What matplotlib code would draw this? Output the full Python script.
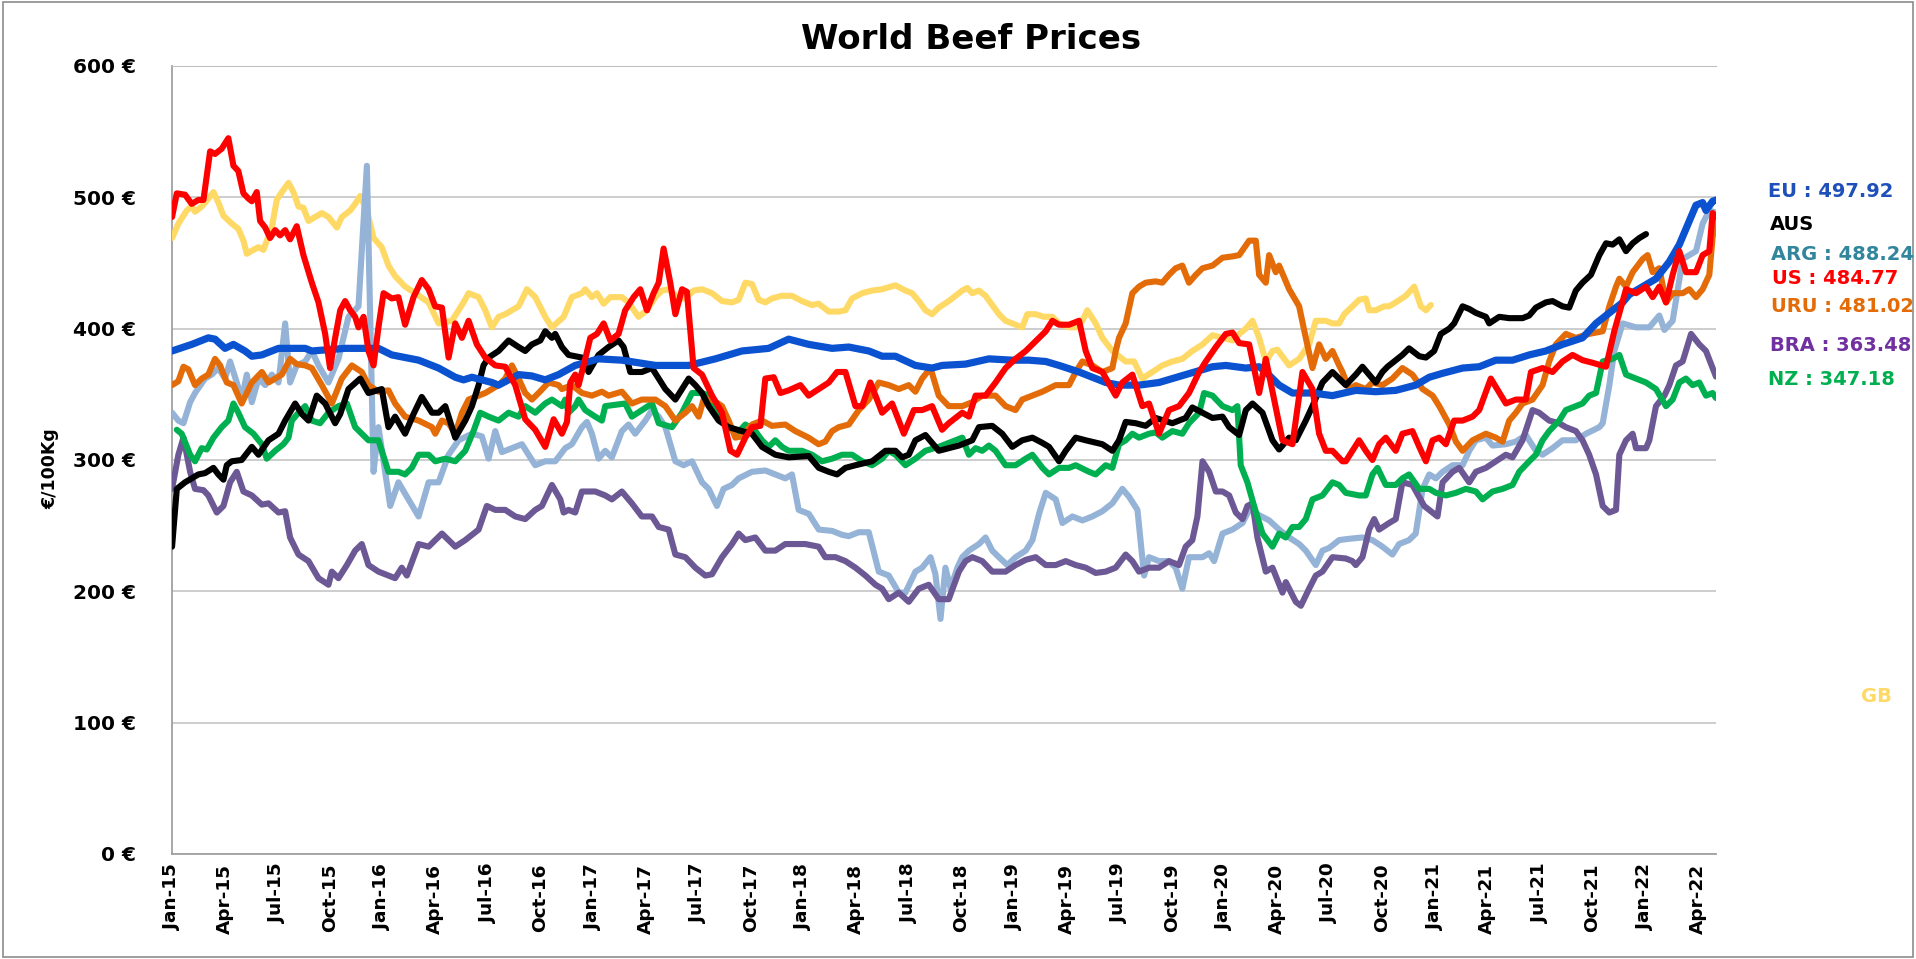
import numpy as np
import pandas as pd
import matplotlib
matplotlib.use('Agg')
import matplotlib.pyplot as plt
from matplotlib.patches import Rectangle

plt.rcParams['font.family'] = ['DejaVu Sans']

# ---------------- data (x = months since Jan-2015, y = EUR/100kg) ----------------
eu_month = [0.00,1.12,2.07,2.45,3.02,3.50,4.16,4.55,5.12,5.69,6.07,7.59,7.97,9.87,11.77,12.53,14.06,15.20,16.15,16.62,17.10,18.24,18.62,19.76,20.52,21.28,22.04,
            22.99,24.32,25.65,27.56,29.46,30.98,32.50,34.02,35.16,36.31,37.64,38.59,39.73,40.49,41.25,42.39,43.34,43.91,
            45.25,46.58,47.91,48.87,49.82,50.58,51.72,53.24,54.00,55.14,56.28,57.80,59.33,60.09,61.23,61.99,62.37,63.13,63.89,65.03,66.17,
            67.50,68.64,69.78,70.92,71.69,72.45,73.59,74.54,75.49,76.44,77.39,78.34,79.29,80.43,81.20,81.96,82.72,83.10,84.24,84.62,85.38,85.95,86.52,86.90,87.28,87.47,87.85,88.04]
eu_value = [383,388,393,392,385,388,383,379,380,383,385,385,383,385,385,380,376,370,363,361,363,359,357,365,364,361,365,
            372,377,376,372,372,377,383,385,392,388,385,386,383,379,379,372,370,372,
            373,377,376,376,375,372,367,359,357,357,359,365,371,372,370,371,367,357,351,351,349,
            353,352,353,357,363,366,370,371,376,376,380,383,388,393,404,412,420,426,435,438,451,464,482,494,496,490,497,497.92]

aus_month = [0,0.27,0.74,1.12,1.50,1.88,2.36,2.64,2.93,3.12,3.40,3.97,4.55,4.93,5.50,6.07,6.45,7.02,7.40,7.78,8.25,8.73,9.30,9.59,10.06,10.73,11.20,11.96,12.34,12.72,13.29,13.77,14.24,14.82,15.20,15.58,16.15,16.72,17.10,17.48,17.76,18.05,18.62,19.19,19.76,20.14,20.52,21.00,21.28,21.66,
             21.85,22.23,22.61,23.37,23.75,24.32,24.89,25.46,25.75,26.13,26.79,27.37,27.75,28.13,28.70,29.08,29.46,29.84,30.22,30.60,31.17,31.74,32.50,33.07,33.64,34.40,35.16,36.31,36.88,37.45,37.92,38.40,38.97,39.92,40.68,41.25,41.63,42.01,42.39,42.96,43.72,
             44.87,45.63,46.01,46.77,47.34,47.91,48.48,49.06,49.63,50.01,50.58,50.96,51.53,52.10,53.05,53.62,54.00,54.38,54.95,55.52,56.09,57.04,57.80,58.18,58.76,59.33,59.90,60.28,60.85,61.23,61.61,62.18,62.75,63.13,63.70,64.08,64.65,65.03,65.60,66.17,66.55,66.93,
             67.50,67.88,68.26,68.64,69.02,69.31,69.69,70.16,70.54,71.12,71.50,71.97,72.35,72.83,73.11,73.59,73.97,74.35,74.92,75.11,75.68,76.25,77.01,77.39,77.77,78.34,78.72,79.29,79.67,80.05,80.43,80.91,81.39,81.77,82.15,82.53,82.91,83.29,83.67,84.05]
aus_value = [234,278,283,286,289,290,294,289,285,296,299,300,310,304,315,320,330,343,335,330,349,343,328,335,354,362,351,354,325,333,320,335,348,336,336,341,317,330,341,357,372,378,383,391,386,383,388,391,398,393,
             396,386,380,378,367,380,386,391,386,367,367,370,362,354,346,354,362,357,351,341,330,325,322,320,310,304,302,303,294,291,289,294,296,299,307,307,302,304,315,319,307,
             311,315,325,326,320,310,315,317,313,310,299,307,317,315,312,307,315,329,328,326,332,328,332,340,336,332,333,325,319,338,343,336,315,308,317,315,330,341,359,367,362,357,
             365,371,365,359,367,371,375,380,385,379,378,383,396,400,404,417,415,412,409,404,409,408,408,410,416,420,421,417,416,429,435,441,456,465,464,468,459,465,469,472]

arg_month = [0,0.36,0.65,1.03,1.31,1.88,2.26,2.64,3.02,3.31,3.69,3.97,4.26,4.55,4.93,5.31,5.69,6.07,6.45,6.73,7.11,7.59,7.97,8.35,8.92,9.49,10.06,10.63,11.11,11.49,11.77,12.44,12.91,13.48,14.06,14.63,15.20,15.77,16.34,17.10,17.67,18.05,18.43,18.81,19.38,19.95,20.33,20.71,21.28,
             21.85,22.42,22.80,23.37,23.66,23.94,24.32,24.70,25.08,25.65,26.03,26.41,26.99,27.37,27.75,28.13,28.70,29.17,29.65,30.22,30.60,31.07,31.45,31.93,32.31,33.07,33.83,34.40,34.97,35.35,35.73,36.31,36.88,37.64,38.21,38.59,39.16,39.73,40.30,40.87,41.44,41.82,42.39,42.77,43.25,43.53,43.82,44.10,44.39,
             44.78,45.06,45.44,46.01,46.39,46.77,47.15,47.63,48.10,48.68,49.06,49.44,49.82,50.39,50.77,51.34,51.91,52.48,53.05,53.62,54.19,54.57,55.05,55.43,55.71,56.28,56.85,57.23,57.61,57.99,58.76,59.14,59.42,59.90,60.47,61.04,61.42,61.99,62.56,63.13,63.70,64.27,64.65,65.22,65.60,65.98,66.55,
             67.12,67.88,68.45,69.02,69.59,69.97,70.54,70.92,71.31,71.69,72.07,72.45,73.02,73.59,73.97,74.35,74.92,75.30,76.06,76.63,77.20,77.77,78.15,78.72,79.29,80.05,80.63,81.39,81.58,81.96,82.24,82.72,83.48,84.24,84.81,85.10,85.57,86.14,86.52,86.90,87.28,87.66,88.04]
arg_value = [336,330,328,344,351,362,365,370,362,375,359,346,365,344,362,357,365,359,404,359,372,375,383,372,359,377,409,417,524,291,325,265,283,270,257,283,283,304,315,320,318,301,322,306,309,312,304,296,299,
             299,309,312,325,329,320,301,307,302,322,327,320,330,338,333,325,299,296,299,283,278,265,278,281,286,291,292,289,286,289,262,259,247,246,243,242,245,245,215,212,199,199,215,218,226,213,179,218,202,
             218,226,231,236,241,231,226,220,226,231,239,259,275,270,252,257,254,257,261,267,278,272,262,212,226,223,223,218,202,226,226,229,223,244,247,252,262,258,254,247,241,236,231,220,231,233,239,
             240,241,239,234,228,236,239,244,278,289,286,291,296,296,307,315,317,311,312,314,319,307,304,309,315,315,320,325,328,357,383,404,401,401,410,399,406,453,456,459,480,490,488.24]

us_month = [0,0.27,0.74,1.12,1.50,1.79,2.17,2.45,2.83,3.21,3.50,3.78,4.07,4.36,4.55,4.83,5.02,5.31,5.59,5.88,6.16,6.45,6.73,7.11,7.49,7.97,8.35,8.73,9.01,9.30,9.59,9.87,10.16,10.44,10.63,10.92,11.20,11.49,11.77,12.06,12.53,12.91,13.29,13.77,14.24,14.63,15.00,15.39,15.77,16.15,16.53,16.91,17.38,17.86,18.43,19.00,19.57,20.14,20.71,21.28,21.76,
            22.23,22.52,22.71,22.99,23.18,23.56,23.85,24.23,24.61,24.99,25.46,25.84,26.32,26.70,27.08,27.46,27.75,28.03,28.41,28.70,29.08,29.36,29.74,30.22,30.79,31.36,31.84,32.22,32.69,33.07,33.55,33.83,34.31,34.69,35.16,35.83,36.30,36.87,37.45,37.92,38.40,38.97,39.35,39.82,40.49,41.06,41.73,42.30,42.77,43.34,43.91,44.29,
            45.06,45.44,45.82,46.39,46.96,47.53,48.10,48.68,49.06,49.44,49.82,50.20,50.58,51.15,51.72,52.10,52.48,53.05,53.81,54.19,54.76,55.33,55.71,56.28,56.85,57.42,57.99,58.57,58.95,59.52,60.09,60.47,60.85,61.42,61.99,62.37,63.32,63.89,64.46,65.03,65.41,65.79,66.17,66.74,
            66.93,67.31,67.69,68.07,68.45,68.83,69.21,69.78,70.16,70.73,71.12,71.50,71.88,72.26,72.64,73.11,73.59,74.16,74.54,75.20,76.06,76.63,77.20,77.49,78.15,78.72,79.29,79.86,80.43,81.01,81.77,82.24,82.91,83.48,84.05,84.43,84.81,85.19,85.57,85.95,86.33,86.90,87.28,87.66,87.85,88.04]
us_value = [485,503,502,495,498,498,535,533,537,545,524,520,503,499,497,504,482,477,469,475,471,475,468,478,456,435,420,396,370,393,414,421,414,409,401,409,383,372,401,427,423,424,403,424,437,430,417,416,378,404,393,406,388,378,372,371,357,331,323,310,331,
            320,329,359,365,357,377,393,396,404,391,396,414,424,430,414,427,435,461,435,411,430,428,370,365,349,336,307,304,317,325,326,362,363,351,353,357,349,354,359,367,367,341,341,359,336,343,320,338,338,341,323,328,
            336,333,349,349,359,370,377,383,388,393,398,406,403,403,406,383,370,367,349,359,365,341,343,320,338,341,351,367,375,386,396,397,389,388,351,377,315,312,367,354,320,307,307,299,
            299,307,315,307,300,312,317,307,320,322,310,299,315,317,312,330,330,333,338,362,343,346,346,367,370,367,375,380,376,374,371,398,430,427,432,424,432,420,441,459,443,443,456,459,488,484.77]

uru_month = [0,0.36,0.65,0.93,1.31,1.69,2.07,2.45,2.74,3.12,3.50,3.97,4.55,5.12,5.50,5.88,6.26,6.73,7.11,7.59,7.97,8.54,9.11,9.68,10.25,10.82,11.20,11.77,12.34,12.72,13.29,14.06,14.82,15.01,15.39,15.77,16.15,16.53,16.91,17.48,17.86,18.62,19.00,19.38,19.76,20.14,20.52,20.90,21.47,22.04,
             22.23,22.80,23.37,23.94,24.51,24.89,25.65,26.22,26.79,27.56,28.13,28.70,29.27,29.65,30.03,30.31,30.79,31.36,31.74,32.12,32.50,33.07,33.64,34.21,34.97,35.54,36.30,36.87,37.25,37.64,38.02,38.59,39.16,39.73,40.30,40.87,41.44,42.01,42.39,42.77,43.25,43.72,44.29,
             45.06,45.63,46.20,46.96,47.53,48.10,48.48,49.06,49.63,50.39,51.15,51.53,51.91,52.48,53.05,53.62,53.81,54.00,54.38,54.76,55.14,55.52,56.09,56.47,56.85,57.23,57.61,57.99,58.38,58.76,59.33,59.90,60.47,60.85,61.42,61.80,61.99,62.37,62.56,62.94,63.13,63.70,64.27,64.65,65.03,65.41,65.79,66.17,66.55,
             66.74,67.12,67.50,68.07,68.45,69.02,69.59,70.16,70.73,71.31,71.88,72.26,72.83,73.21,73.59,74.16,74.92,75.49,75.87,76.25,76.63,77.01,77.58,78.15,78.53,78.91,79.48,80.05,80.81,81.58,81.96,82.34,82.53,82.91,83.29,83.86,84.14,84.43,84.81,85.19,85.57,86.14,86.52,86.90,87.28,87.66,87.85,88.04]
uru_value = [357,360,371,369,357,362,365,377,372,359,357,343,359,367,359,362,365,377,373,372,370,357,343,362,372,367,357,352,353,343,333,330,325,320,330,328,320,336,346,349,351,357,362,372,362,351,346,351,359,357,
             354,357,351,349,352,349,352,343,346,346,341,330,336,341,333,346,346,341,330,317,318,327,330,326,327,322,317,312,314,322,325,327,338,346,359,357,354,357,352,362,370,349,341,
             341,344,349,349,341,338,346,349,352,357,357,367,375,372,367,370,383,393,404,427,432,435,436,435,441,446,448,435,441,446,448,454,455,456,467,467,441,435,456,443,448,430,417,393,370,388,377,383,372,
             367,354,357,354,359,357,362,370,365,354,349,341,327,314,307,315,320,317,314,330,336,343,346,357,375,388,396,393,396,398,417,432,438,432,443,453,456,443,446,420,427,427,430,424,430,441,470,481.02]

bra_month = [0,0.36,0.65,1.03,1.31,1.79,2.07,2.55,2.93,3.31,3.69,4.07,4.55,5.12,5.50,6.07,6.45,6.73,7.21,7.78,8.35,8.92,9.11,9.49,9.97,10.44,10.82,11.20,11.77,12.34,12.72,13.10,13.39,14.06,14.63,15.39,15.77,16.15,16.72,17.48,17.95,18.43,19.00,19.57,20.14,20.71,21.09,21.66,
             22.14,22.33,22.61,22.99,23.37,24.13,24.70,25.08,25.65,26.22,26.79,27.37,27.75,28.32,28.70,29.27,29.84,30.41,30.79,31.36,31.93,32.31,32.69,33.26,33.83,34.40,34.97,35.35,36.11,36.87,37.25,37.83,38.40,38.97,39.54,40.11,40.49,40.87,41.44,42.01,42.58,43.15,43.72,44.29,
             44.87,45.25,45.63,46.20,46.77,47.53,48.10,48.68,49.25,49.82,50.39,50.96,51.53,52.10,52.67,53.24,53.81,54.38,54.76,55.14,55.71,56.28,56.85,57.42,57.80,58.18,58.47,58.76,59.14,59.52,59.90,60.28,60.66,61.04,61.32,61.61,61.89,62.37,62.75,63.32,63.51,64.08,64.37,64.84,65.22,65.60,66.17,
             66.93,67.31,67.50,67.88,68.26,68.55,68.83,69.40,69.78,70.16,70.73,71.40,71.88,72.16,72.45,73.02,73.40,73.97,74.35,74.92,75.49,76.06,76.44,77.01,77.58,77.96,78.53,79.10,79.48,80.05,80.43,80.81,81.20,81.58,81.96,82.34,82.53,82.91,83.29,83.48,84.05,84.24,84.62,85.10,85.38,85.76,86.14,86.62,87.09,87.47,87.85,88.04]
bra_value = [278,304,317,291,278,277,273,260,265,283,291,276,273,266,267,260,261,241,228,223,210,205,215,210,220,231,236,220,215,212,210,218,212,236,234,244,239,234,239,247,265,262,262,257,255,262,265,281,
             270,260,262,260,276,276,273,270,276,267,257,257,249,247,228,226,218,212,213,226,236,244,239,241,231,231,236,236,236,234,226,226,223,218,212,205,202,194,199,192,202,205,194,194,
             215,223,226,223,215,215,220,224,226,220,220,223,220,218,214,215,218,228,223,215,218,218,223,220,234,239,257,299,291,276,276,273,260,255,265,267,241,215,218,199,207,192,189,202,212,215,226,
             225,223,220,226,247,255,247,252,255,283,281,265,260,257,283,291,294,283,291,294,299,304,302,315,338,336,330,328,325,322,315,304,289,265,260,262,304,315,320,309,309,315,341,349,357,372,375,396,388,383,370,363.48]

nz_month = [0.27,0.55,1.03,1.31,1.69,1.98,2.36,2.83,3.21,3.50,3.78,4.16,4.64,5.12,5.40,5.88,6.35,6.64,6.83,7.21,7.59,7.97,8.44,8.92,9.49,9.97,10.44,10.82,11.20,11.77,12.34,12.91,13.29,13.67,14.06,14.63,15.01,15.58,16.15,16.72,17.19,17.57,18.05,18.62,19.19,19.76,20.14,20.71,21.28,21.66,22.23,
            22.42,22.61,22.99,23.18,23.56,24.13,24.51,24.70,25.27,25.84,26.22,26.79,27.37,27.75,28.51,29.08,29.65,30.22,30.60,31.17,31.74,32.22,32.69,33.26,33.64,34.02,34.40,34.78,35.16,35.92,36.49,37.06,37.64,38.21,38.78,39.35,39.92,40.49,40.87,41.25,41.82,42.39,42.96,43.72,44.67,
            45.06,45.44,45.82,46.20,46.58,46.96,47.53,48.10,48.68,49.06,49.63,50.01,50.58,51.15,51.53,52.29,52.67,53.24,53.62,54.00,54.38,54.76,55.14,55.71,56.09,56.47,57.04,57.61,57.99,58.57,58.85,59.33,59.90,60.47,60.75,60.94,61.32,61.70,62.18,62.75,63.13,63.51,63.89,64.27,64.65,65.03,65.60,66.17,66.55,
            66.93,67.69,68.07,68.45,68.74,69.21,69.78,70.16,70.54,71.12,71.69,72.07,72.64,73.21,73.78,74.35,74.73,75.30,75.87,76.44,76.82,77.39,77.77,78.15,78.53,79.10,79.48,80.05,80.43,80.81,81.20,81.58,82.15,82.53,82.91,83.48,84.05,84.62,85.19,85.57,85.95,86.33,86.71,87.09,87.47,87.85,88.04]
nz_value = [323,320,304,299,309,308,317,325,330,343,336,325,320,312,301,307,312,317,330,336,341,330,328,336,341,343,325,320,315,315,291,291,289,294,304,304,299,301,299,307,322,336,333,330,336,333,341,336,343,346,341,
            346,336,341,346,338,333,330,341,342,343,333,338,343,328,325,336,351,351,349,336,325,320,327,322,315,310,315,310,307,307,304,299,301,304,304,299,296,301,307,304,296,301,307,310,315,
            317,304,309,307,311,307,296,296,301,304,294,289,294,294,296,291,289,296,294,312,315,320,317,320,321,317,322,320,328,336,351,349,341,338,341,296,283,265,244,234,244,241,249,249,255,270,273,283,281,
            275,273,273,289,294,281,281,286,289,278,278,275,273,275,278,276,270,276,278,281,291,299,304,315,322,330,338,341,343,349,351,375,377,380,365,362,359,354,341,346,359,362,357,359,349,351,347.18]

gb_month = [0,0.36,0.84,1.12,1.31,1.69,2.07,2.36,2.64,2.93,3.40,3.78,4.07,4.26,4.64,4.93,5.21,5.69,5.97,6.26,6.64,6.92,7.21,7.49,7.78,8.16,8.54,8.92,9.40,9.68,10.16,10.44,10.73,11.11,11.49,11.96,12.34,12.72,13.29,13.86,14.63,15.20,15.96,16.62,16.91,17.48,17.86,18.24,18.62,19.00,19.76,20.24,20.71,21.28,21.66,
            22.33,22.80,23.37,23.56,23.94,24.23,24.61,24.99,25.65,26.03,26.60,27.08,27.56,27.94,28.32,28.89,29.27,29.74,30.22,30.79,31.36,31.93,32.31,32.69,33.07,33.45,33.83,34.21,34.78,35.35,35.92,36.49,36.87,37.45,38.02,38.40,38.78,39.35,39.92,40.49,41.25,41.82,42.20,42.58,42.96,43.34,43.72,44.29,
            45.06,45.35,45.63,46.01,46.39,46.77,47.15,47.53,48.10,48.48,48.77,49.25,49.72,50.20,50.58,51.15,51.53,51.91,52.19,52.67,53.05,53.62,54.38,54.86,55.33,55.90,56.47,57.04,57.61,58.18,58.76,59.33,59.90,60.47,60.85,61.23,61.61,61.99,62.37,62.75,63.03,63.70,64.27,64.84,65.22,65.79,66.17,
            66.55,66.84,67.31,67.69,68.07,68.26,68.64,69.12,69.40,69.78,70.35,70.83,71.21,71.50,71.78]
gb_value = [469,480,490,493,489,493,499,504,496,486,480,476,467,457,460,462,460,477,498,504,511,504,493,492,482,485,488,485,477,485,490,495,501,490,469,462,448,440,432,427,420,404,406,420,427,424,414,401,409,411,417,430,424,409,401,
            409,424,427,430,424,427,419,424,424,420,409,414,424,429,430,423,423,429,430,427,421,420,422,435,434,422,420,423,425,425,421,418,419,413,413,414,423,427,429,430,433,429,427,421,414,411,416,421,
            429,431,427,429,425,418,411,406,403,401,411,411,409,409,404,401,401,406,414,404,393,383,375,375,362,367,372,375,377,383,388,395,393,391,396,400,406,393,375,383,384,372,377,388,406,406,404,
            404,411,417,422,423,414,414,417,417,420,425,432,417,414,418]

tick_labels = list(pd.date_range('2015-01-01', '2022-04-01', freq='3MS').strftime('%b-%y'))
y_ticks = [0, 100, 200, 300, 400, 500, 600]

end_labels = [('EU : 497.92', '#1F4FB8'), ('AUS', '#000000'), ('ARG : 488.24', '#31859C'),
              ('US : 484.77', '#FF0000'), ('URU : 481.02', '#E36C09'), ('BRA : 363.48', '#7030A0'),
              ('NZ : 347.18', '#00B050')]

# ---------------- figure ----------------
fig = plt.figure(figsize=(19.16, 9.59), dpi=100)
ax = fig.add_axes([0.0898, 0.1095, 0.8058, 0.8217])

series = [
    (gb_month, gb_value, '#FFD966', 4.4),
    (arg_month, arg_value, '#95B3D7', 4.4),
    (bra_month, bra_value, '#6B5894', 4.4),
    (nz_month, nz_value, '#00B050', 4.4),
    (uru_month, uru_value, '#E36C09', 4.4),
    (aus_month, aus_value, '#000000', 4.4),
    (eu_month, eu_value, '#0A52D0', 5.2),
    (us_month, us_value, '#FF0000', 4.4),
]
for m, v, c, lw in series:
    assert len(m) == len(v), (len(m), len(v), c)
    ax.plot(m, v, color=c, lw=lw, solid_joinstyle='round', solid_capstyle='round', zorder=3)

ax.set_xlim(0, 88.04)
ax.set_ylim(0, 600)
ax.set_yticks(y_ticks)
ax.set_yticklabels([f'{t} €' for t in y_ticks], fontsize=14.5, fontweight='bold')
ax.set_xticks(np.arange(0, 3 * len(tick_labels), 3))
ax.set_xticklabels(tick_labels, rotation=90, fontsize=13.3, fontweight='bold')
ax.tick_params(axis='y', length=0, pad=26)
ax.tick_params(axis='x', length=0, pad=7)
ax.grid(axis='y', color='#C0C0C0', lw=1.1, zorder=0)
ax.set_axisbelow(True)
ax.spines['right'].set_visible(False)
ax.spines['top'].set_color('#C0C0C0')
ax.spines['left'].set_color('#A0A0A0')
ax.spines['bottom'].set_color('#A0A0A0')
ax.spines['left'].set_linewidth(1.3)
ax.spines['bottom'].set_linewidth(1.3)

fig.text(0.507, 0.959, 'World Beef Prices', ha='center', va='center', fontsize=24.5, fontweight='bold')
fig.text(0.026, 0.511, '€/100Kg', ha='center', va='center', rotation=90, fontsize=12.5, fontweight='bold')

label_pos = [(0.9228, 0.8008), (0.9238, 0.7654), (0.9243, 0.7341), (0.9248, 0.7091),
             (0.9243, 0.6799), (0.9238, 0.6402), (0.9228, 0.6038)]
for (txt, col), (x, y) in zip(end_labels, label_pos):
    fig.text(x, y, txt, color=col, ha='left', va='center', fontsize=14, fontweight='bold')
fig.text(0.9713, 0.2742, 'GB', color='#FFD966', ha='left', va='center', fontsize=14, fontweight='bold')

fig.patches.append(Rectangle((0.0015, 0.002), 0.997, 0.996, transform=fig.transFigure,
                             fill=False, edgecolor='#8C8C8C', lw=1.2))

fig.savefig('out.png', dpi=100)
